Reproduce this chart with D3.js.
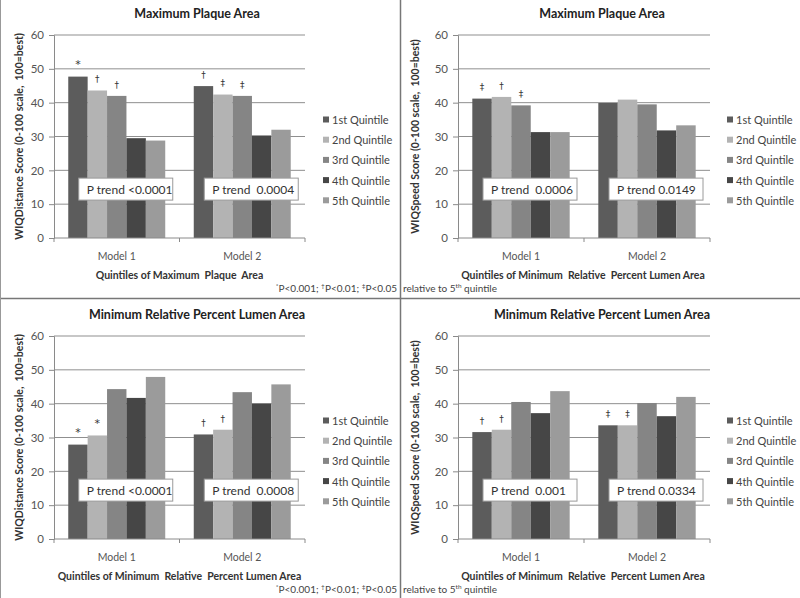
<!DOCTYPE html>
<html><head><meta charset="utf-8">
<script src="https://cdn.jsdelivr.net/npm/d3@7"></script>
<style>
html,body{margin:0;padding:0;background:#fff;}
svg text{font-family:Lato,"Open Sans",sans-serif;}
.mk{opacity:0.99;}
</style></head>
<body>
<svg id="c" width="800" height="598"></svg>
<script>
const models = ["Model 1", "Model 2"];
const quintiles = ["1st Quintile", "2nd Quintile", "3rd Quintile", "4th Quintile", "5th Quintile"];
const yTicks = [0, 10, 20, 30, 40, 50, 60];
const colors = ["#5c5c5c", "#b3b3b3", "#858585", "#464646", "#9b9b9b"];

// values [model][quintile]
const distPlaque = [[47.7, 43.6, 42.0, 29.5, 28.8], [44.9, 42.4, 42.0, 30.3, 32.0]];
const speedPlaque = [[41.2, 41.7, 39.2, 31.3, 31.3], [39.9, 40.9, 39.5, 31.8, 33.3]];
const distLumen = [[27.9, 30.6, 44.3, 41.7, 47.9], [30.9, 32.3, 43.4, 40.0, 45.7]];
const speedLumen = [[31.6, 32.3, 40.5, 37.2, 43.7], [33.6, 33.6, 40.2, 36.3, 42.0]];

const markDistPlaque = [["*", "\u2020", "\u2020", "", ""], ["\u2020", "\u2021", "\u2021", "", ""]];
const markSpeedPlaque = [["\u2021", "\u2020", "\u2021", "", ""], ["", "", "", "", ""]];
const markDistLumen = [["*", "*", "", "", ""], ["\u2020", "\u2020", "", "", ""]];
const markSpeedLumen = [["\u2020", "\u2020", "", "", ""], ["\u2021", "\u2021", "", "", ""]];

const ptDistPlaque = ["P trend <0.0001", "P trend  0.0004"];
const ptSpeedPlaque = ["P trend  0.0006", "P trend 0.0149"];
const ptDistLumen = ["P trend <0.0001", "P trend  0.0008"];
const ptSpeedLumen = ["P trend  0.001", "P trend 0.0334"];

const panels = [
  {ox:0, oy:0, title:"Maximum Plaque Area", ytitle:"WIQDistance Score (0-100 scale,  100=best)",
   xtitle:"Quintiles of Maximum  Plaque  Area", data:distPlaque, marks:markDistPlaque, pt:ptDistPlaque},
  {ox:400, oy:0, title:"Maximum Plaque Area", ytitle:"WIQSpeed Score (0-100 scale,  100=best)",
   xtitle:"Quintiles of Minimum  Relative  Percent Lumen Area", data:speedPlaque, marks:markSpeedPlaque, pt:ptSpeedPlaque},
  {ox:0, oy:301, title:"Minimum Relative Percent Lumen Area", ytitle:"WIQDistance Score (0-100 scale,  100=best)",
   xtitle:"Quintiles of Minimum  Relative  Percent Lumen Area", data:distLumen, marks:markDistLumen, pt:ptDistLumen},
  {ox:400, oy:301, title:"Minimum Relative Percent Lumen Area", ytitle:"WIQSpeed Score (0-100 scale,  100=best)",
   xtitle:"Quintiles of Minimum  Relative  Percent Lumen Area", data:speedLumen, marks:markSpeedLumen, pt:ptSpeedLumen}
];

const svg = d3.select("#c");

panels.forEach((p, pi) => {
  const isRight = p.ox > 0;
  const x0 = isRight ? 58 : 54, x1 = isRight ? 310 : 305;
  const yTop = 35, yBot = 238;
  const g = svg.append("g").attr("transform", `translate(${p.ox},${p.oy})`);

  const y = d3.scaleLinear().domain([0, 60]).range([yBot, yTop]);
  const xb = d3.scaleBand().domain(models).range([x0, x1]).padding(0);
  const xq = d3.scaleBand().domain(quintiles).range([0, xb.bandwidth()]).paddingInner(0).paddingOuter(0.735);

  // gridlines
  g.append("g").selectAll("line").data(yTicks.filter(t => t > 0)).join("line")
    .attr("x1", x0).attr("x2", x1).attr("y1", d => y(d)).attr("y2", d => y(d))
    .attr("stroke", "#8f8f8f").attr("stroke-width", 1);

  // y axis
  const ya = g.append("g").attr("transform", `translate(${x0},0)`)
    .call(d3.axisLeft(y).tickValues(yTicks).tickSize(5).tickPadding(5));
  ya.select(".domain").attr("stroke", "#8a8a8a");
  ya.selectAll(".tick line").attr("stroke", "#8a8a8a");
  ya.selectAll(".tick text").attr("fill", "#555").style("font-size", "11.5px").style("font-family", "Lato, sans-serif");

  // bars
  p.data.forEach((vals, mi) => {
    const m = models[mi];
    g.append("g").selectAll("rect").data(vals).join("rect")
      .attr("x", (d, i) => xb(m) + xq(quintiles[i]))
      .attr("width", xq.bandwidth())
      .attr("y", d => y(d))
      .attr("height", d => y(0) - y(d))
      .attr("fill", (d, i) => colors[i]);
    g.append("g").attr("class", "mk").selectAll("text").data(vals).join("text")
      .attr("x", (d, i) => xb(m) + xq(quintiles[i]) + xq.bandwidth() / 2)
      .attr("y", (d, i) => y(d + (p.marks[mi][i] === "*" ? 2.6 : 2.4)))
      .attr("text-anchor", "middle")
      .attr("fill", "#333").style("fill", "#333")
      .style("font-family", "'DejaVu Sans', sans-serif").style("font-size", (d, i) => p.marks[mi][i] === "*" ? "11px" : "9px")
      .text((d, i) => p.marks[mi][i]);
  });

  // x axis
  g.append("line").attr("x1", x0).attr("x2", x1).attr("y1", y(0)).attr("y2", y(0))
    .attr("stroke", "#8a8a8a");
  g.append("g").selectAll("line").data([x0, xb("Model 2"), x1]).join("line")
    .attr("x1", d => d).attr("x2", d => d).attr("y1", y(0)).attr("y2", y(0) + 4)
    .attr("stroke", "#8a8a8a");
  g.append("g").selectAll("text").data(models).join("text")
    .attr("x", d => xb(d) + xb.bandwidth() / 2).attr("y", y(0) + 22)
    .attr("text-anchor", "middle").attr("fill", "#555").style("font-size", "10.5px")
    .text(d => d);

  // P trend boxes
  models.forEach((m, mi) => {
    const bx = xb(m) + xb.bandwidth() / 2 + 9 - 47;
    const by = y(17.7);
    g.append("rect").attr("x", bx).attr("y", by).attr("width", 94).attr("height", y(11.2) - y(17.7))
      .attr("fill", "#fff").attr("stroke", "#9a9a9a").attr("stroke-width", 1);
    g.append("text").attr("x", bx + 8).attr("y", by + 15.5)
      .attr("fill", "#333").style("font-size", "12px").style("white-space", "pre")
      .attr("xml:space", "preserve")
      .text(p.pt[mi]);
  });

  // legend
  const lx = isRight ? 327 : 323;
  const lg = g.append("g").selectAll("g").data(quintiles).join("g")
    .attr("transform", (d, i) => `translate(${lx},${120 + i * 20.2})`);
  lg.append("rect").attr("x", 0).attr("y", -3.5).attr("width", 6).attr("height", 6)
    .attr("fill", (d, i) => colors[i]);
  lg.append("text").attr("x", 9).attr("y", 4).attr("fill", "#444").style("font-size", "11px").text(d => d);

  // titles
  g.append("text").attr("x", isRight ? 202 : 197).attr("y", 18).attr("text-anchor", "middle")
    .attr("fill", "#222").style("font-size", "12.5px").style("font-weight", "bold").text(p.title);
  g.append("text").attr("transform", `translate(${isRight ? 19 : 23},${(yTop + yBot) / 2}) rotate(-90)`)
    .attr("text-anchor", "middle").attr("fill", "#333").style("font-size", "10.5px").style("font-weight", "bold")
    .attr("xml:space", "preserve").style("white-space", "pre")
    .text(p.ytitle);
  g.append("text").attr("x", (x0 + x1) / 2 + (isRight ? -1 : 0)).attr("y", 279)
    .attr("text-anchor", "middle").attr("fill", "#333").style("font-size", "10.5px").style("font-weight", "bold")
    .attr("xml:space", "preserve").style("white-space", "pre")
    .text(p.xtitle);

  // footnotes
  if (!isRight) {
    const t = g.append("text").attr("x", 397).attr("y", 292).attr("text-anchor", "end")
      .attr("fill", "#444").style("font-size", "10px");
    [["*", "P<0.001; "], ["\u2020", "P<0.01; "], ["\u2021", "P<0.05"]].forEach(([s, txt]) => {
      t.append("tspan").attr("dy", -4).style("font-size", "6.5px").text(s);
      t.append("tspan").attr("dy", 4).text(txt);
    });
  } else {
    const t = g.append("text").attr("x", 3).attr("y", 292).attr("fill", "#444").style("font-size", "10px");
    t.append("tspan").text("relative to 5");
    t.append("tspan").attr("dy", -4).style("font-size", "6.5px").text("th");
    t.append("tspan").attr("dy", 4).text(" quintile");
  }
});

// dividers
svg.append("line").attr("x1", 400.5).attr("x2", 400.5).attr("y1", 0).attr("y2", 598).attr("stroke", "#777").attr("stroke-width", 1.5);
svg.append("line").attr("x1", 0).attr("x2", 800).attr("y1", 298.5).attr("y2", 298.5).attr("stroke", "#777").attr("stroke-width", 1.5);
svg.append("line").attr("x1", 0.5).attr("x2", 0.5).attr("y1", 0).attr("y2", 598).attr("stroke", "#999").attr("stroke-width", 1);
</script>
</body></html>
